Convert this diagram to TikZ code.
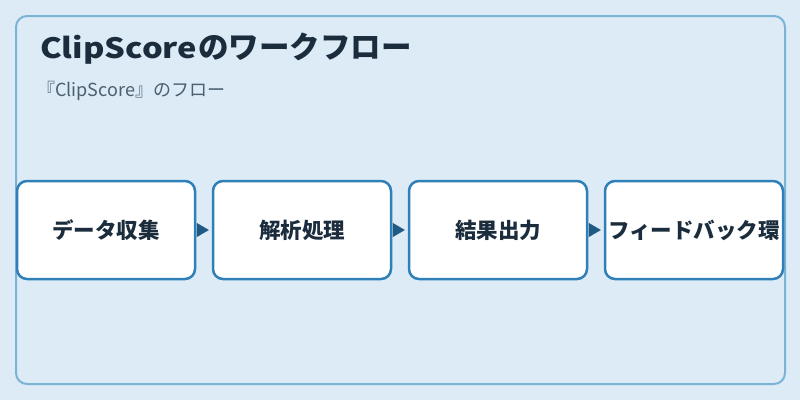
\documentclass[tikz,border=0pt]{standalone}
\usepackage{fontspec}
\setmainfont{Noto Sans CJK JP}
\usetikzlibrary{arrows.meta}
\definecolor{bgc}{HTML}{DCEBF6}
\definecolor{framec}{HTML}{7BB3D6}
\definecolor{boxc}{HTML}{2F80B9}
\definecolor{arrc}{HTML}{1F5A85}
\definecolor{txtc}{HTML}{1B2D3D}
\definecolor{subc}{HTML}{4A5F70}
\newlength\latinw
\tikzset{
  stepbox/.style={draw=boxc, line width=2.5pt, fill=white, rounded corners=10pt,
    minimum width=178pt, minimum height=98pt, inner sep=0pt, text=txtc,
    font=\fontsize{21.5}{24}\selectfont\bfseries},
  flow/.style={draw=arrc, fill=arrc, line width=0.1pt, shorten <=3pt, shorten >=3pt,
    -{Triangle[length=12pt,width=14pt]}},
  titletext/.style={anchor=base west, inner sep=0pt, text=txtc}
}
\begin{document}
\settowidth{\latinw}{\fontsize{28}{32}\selectfont\bfseries ClipScore}%
\pgfmathsetmacro\latinscale{157/\latinw}%
\begin{tikzpicture}[x=1pt,y=-1pt]
\fill[bgc] (0,0) rectangle (800,400);
\useasboundingbox (0,0) rectangle (800,400);
\draw[framec, line width=2pt, rounded corners=11pt] (16,16) rectangle (785,384);
\node[titletext, font=\fontsize{28}{32}\selectfont\bfseries] (titleA) at (40,58) {\scalebox{\latinscale}[1]{ClipScore}};
\node[titletext, font=\fontsize{30.5}{34}\selectfont\bfseries] (titleB) at (198,58) {のワークフロー};
\node[anchor=base west, inner sep=0pt, text=subc, font=\fontsize{18}{20}\selectfont] (sub) at (37,96) {『ClipScore』のフロー};
\node[stepbox] (b1) at (106,230) {データ収集};
\node[stepbox] (b2) at (302,230) {解析処理};
\node[stepbox] (b3) at (498,230) {結果出力};
\node[stepbox] (b4) at (694,230) {フィードバック環};
\draw[flow] (b1.east) -- (b2.west);
\draw[flow] (b2.east) -- (b3.west);
\draw[flow] (b3.east) -- (b4.west);
\end{tikzpicture}
\end{document}
